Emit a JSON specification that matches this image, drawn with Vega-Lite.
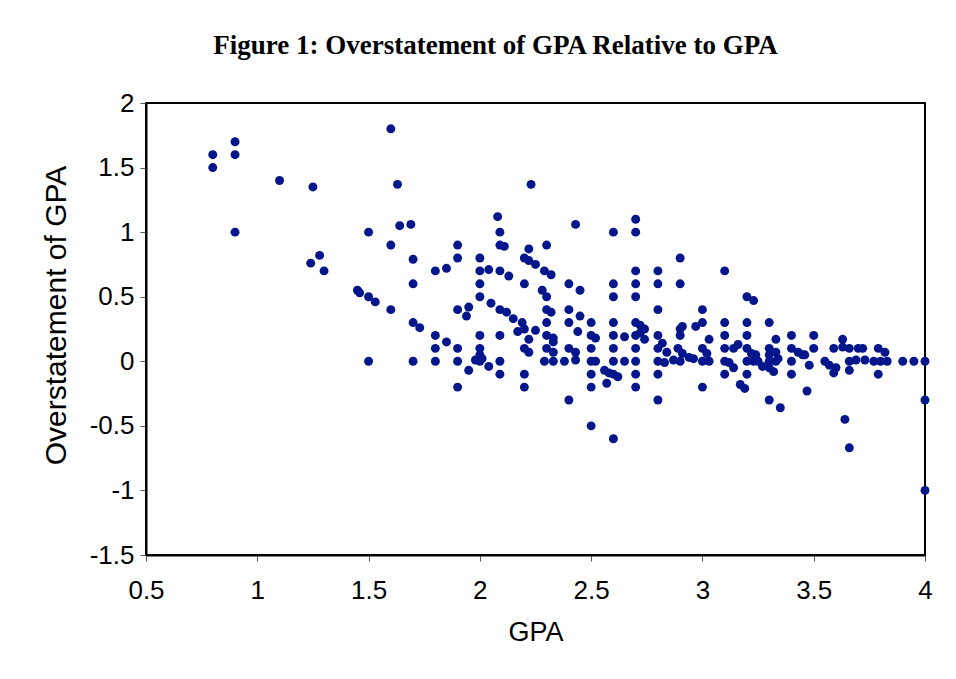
{
  "$schema": "https://vega.github.io/schema/vega-lite/v6.json",
  "autosize": "none",
  "width": 779,
  "height": 452,
  "padding": {"left": 146, "top": 103, "right": 31, "bottom": 124},
  "background": "white",
  "config": {
    "view": {"stroke": "black", "strokeWidth": 2},
    "axis": {"grid": false, "domainColor": "black", "domainWidth": 2, "tickColor": "#555", "tickSize": 6, "labelFont": "Liberation Sans", "labelFontSize": 26, "labelColor": "black", "titleFont": "Liberation Sans", "titleFontSize": 27, "titleFontWeight": "normal", "titleColor": "black"}
  },
  "title": {"text": "Figure 1: Overstatement of GPA Relative to GPA", "font": "Liberation Serif", "fontSize": 27, "fontWeight": "bold", "color": "black", "anchor": "middle", "dx": -40, "offset": 30},
  "data": {"values": [
    {"gpa":0.8,"over":1.6},{"gpa":0.8,"over":1.5},{"gpa":0.9,"over":1.7},{"gpa":0.9,"over":1.6},{"gpa":0.9,"over":1.0},{"gpa":1.1,"over":1.4},{"gpa":1.25,"over":1.35},{"gpa":1.28,"over":0.82},{"gpa":1.24,"over":0.76},{"gpa":1.3,"over":0.7},
    {"gpa":1.45,"over":0.55},{"gpa":1.46,"over":0.53},{"gpa":1.5,"over":0.5},{"gpa":1.53,"over":0.46},{"gpa":1.5,"over":1.0},{"gpa":1.5,"over":0.0},
    {"gpa":1.6,"over":1.8},{"gpa":1.63,"over":1.37},{"gpa":1.64,"over":1.05},{"gpa":1.69,"over":1.06},{"gpa":1.6,"over":0.9},{"gpa":1.6,"over":0.4},{"gpa":1.7,"over":0.79},{"gpa":1.7,"over":0.6},{"gpa":1.7,"over":0.3},{"gpa":1.73,"over":0.26},{"gpa":1.7,"over":0.0},
    {"gpa":1.8,"over":0.7},{"gpa":1.8,"over":0.2},{"gpa":1.8,"over":0.1},{"gpa":1.8,"over":0.0},{"gpa":1.85,"over":0.72},{"gpa":1.85,"over":0.15},
    {"gpa":1.9,"over":0.9},{"gpa":1.9,"over":0.8},{"gpa":1.9,"over":0.4},{"gpa":1.9,"over":0.1},{"gpa":1.9,"over":0.0},{"gpa":1.9,"over":-0.2},{"gpa":1.95,"over":0.42},{"gpa":1.94,"over":0.35},{"gpa":1.95,"over":-0.07},
    {"gpa":2.0,"over":0.8},{"gpa":2.0,"over":0.7},{"gpa":2.04,"over":0.71},{"gpa":2.0,"over":0.6},{"gpa":2.0,"over":0.5},{"gpa":2.05,"over":0.45},{"gpa":2.0,"over":0.2},{"gpa":2.0,"over":0.1},{"gpa":2.0,"over":0.05},{"gpa":1.98,"over":0.01},{"gpa":2.0,"over":0.0},{"gpa":2.01,"over":0.02},{"gpa":2.04,"over":-0.04},
    {"gpa":2.08,"over":1.12},{"gpa":2.09,"over":1.0},{"gpa":2.09,"over":0.9},{"gpa":2.11,"over":0.89},{"gpa":2.09,"over":0.7},{"gpa":2.13,"over":0.66},{"gpa":2.09,"over":0.4},{"gpa":2.12,"over":0.38},{"gpa":2.15,"over":0.33},{"gpa":2.09,"over":0.2},{"gpa":2.09,"over":0.0},{"gpa":2.09,"over":-0.1},
    {"gpa":2.2,"over":0.8},{"gpa":2.22,"over":0.78},{"gpa":2.22,"over":0.87},{"gpa":2.2,"over":0.6},{"gpa":2.19,"over":0.3},{"gpa":2.2,"over":0.25},{"gpa":2.17,"over":0.23},{"gpa":2.22,"over":0.17},{"gpa":2.2,"over":0.1},{"gpa":2.22,"over":0.07},{"gpa":2.2,"over":-0.1},{"gpa":2.2,"over":-0.2},{"gpa":2.23,"over":1.37},
    {"gpa":2.25,"over":0.75},{"gpa":2.29,"over":0.7},{"gpa":2.32,"over":0.67},{"gpa":2.3,"over":0.9},{"gpa":2.28,"over":0.55},{"gpa":2.3,"over":0.5},{"gpa":2.3,"over":0.4},{"gpa":2.32,"over":0.38},{"gpa":2.3,"over":0.3},{"gpa":2.25,"over":0.24},{"gpa":2.3,"over":0.2},{"gpa":2.33,"over":0.18},{"gpa":2.33,"over":0.15},{"gpa":2.3,"over":0.1},{"gpa":2.33,"over":0.07},{"gpa":2.29,"over":0.0},{"gpa":2.33,"over":0.0},
    {"gpa":2.4,"over":0.6},{"gpa":2.45,"over":0.55},{"gpa":2.4,"over":0.4},{"gpa":2.45,"over":0.35},{"gpa":2.4,"over":0.3},{"gpa":2.44,"over":0.23},{"gpa":2.4,"over":0.1},{"gpa":2.43,"over":0.07},{"gpa":2.38,"over":0.0},{"gpa":2.43,"over":0.01},{"gpa":2.4,"over":-0.3},{"gpa":2.43,"over":1.06},
    {"gpa":2.5,"over":0.3},{"gpa":2.5,"over":0.2},{"gpa":2.52,"over":0.18},{"gpa":2.5,"over":0.1},{"gpa":2.5,"over":0.0},{"gpa":2.52,"over":0.0},{"gpa":2.5,"over":-0.1},{"gpa":2.5,"over":-0.2},{"gpa":2.5,"over":-0.5},
    {"gpa":2.56,"over":-0.07},{"gpa":2.58,"over":-0.09},{"gpa":2.62,"over":-0.12},{"gpa":2.57,"over":-0.17},
    {"gpa":2.6,"over":1.0},{"gpa":2.6,"over":0.6},{"gpa":2.6,"over":0.5},{"gpa":2.6,"over":0.3},{"gpa":2.6,"over":0.2},{"gpa":2.6,"over":0.1},{"gpa":2.6,"over":0.0},{"gpa":2.6,"over":-0.1},{"gpa":2.6,"over":-0.6},{"gpa":2.65,"over":0.19},{"gpa":2.65,"over":0.0},
    {"gpa":2.7,"over":1.1},{"gpa":2.7,"over":1.0},{"gpa":2.7,"over":0.7},{"gpa":2.7,"over":0.6},{"gpa":2.7,"over":0.5},{"gpa":2.7,"over":0.3},{"gpa":2.72,"over":0.28},{"gpa":2.74,"over":0.25},{"gpa":2.7,"over":0.2},{"gpa":2.72,"over":0.22},{"gpa":2.74,"over":0.17},{"gpa":2.7,"over":0.1},{"gpa":2.7,"over":0.0},{"gpa":2.7,"over":-0.1},{"gpa":2.7,"over":-0.2},
    {"gpa":2.8,"over":0.7},{"gpa":2.8,"over":0.6},{"gpa":2.8,"over":0.4},{"gpa":2.8,"over":0.2},{"gpa":2.82,"over":0.14},{"gpa":2.8,"over":0.1},{"gpa":2.84,"over":0.07},{"gpa":2.8,"over":0.0},{"gpa":2.83,"over":-0.01},{"gpa":2.87,"over":0.01},{"gpa":2.8,"over":-0.1},{"gpa":2.8,"over":-0.3},
    {"gpa":2.9,"over":0.8},{"gpa":2.9,"over":0.6},{"gpa":2.91,"over":0.27},{"gpa":2.9,"over":0.25},{"gpa":2.9,"over":0.2},{"gpa":2.89,"over":0.1},{"gpa":2.91,"over":0.06},{"gpa":2.94,"over":0.03},{"gpa":2.9,"over":0.0},
    {"gpa":2.97,"over":0.27},{"gpa":3.0,"over":0.3},{"gpa":3.0,"over":0.4},{"gpa":3.03,"over":0.17},{"gpa":3.0,"over":0.1},{"gpa":3.02,"over":0.06},{"gpa":2.96,"over":0.02},{"gpa":3.0,"over":0.0},{"gpa":3.03,"over":0.0},{"gpa":3.0,"over":-0.2},
    {"gpa":3.1,"over":0.7},{"gpa":3.1,"over":0.3},{"gpa":3.1,"over":0.2},{"gpa":3.1,"over":0.1},{"gpa":3.14,"over":0.1},{"gpa":3.16,"over":0.13},{"gpa":3.1,"over":0.0},{"gpa":3.12,"over":-0.01},{"gpa":3.14,"over":-0.05},{"gpa":3.1,"over":-0.1},
    {"gpa":3.2,"over":0.5},{"gpa":3.23,"over":0.47},{"gpa":3.2,"over":0.3},{"gpa":3.2,"over":0.2},{"gpa":3.2,"over":0.1},{"gpa":3.22,"over":0.06},{"gpa":3.24,"over":0.05},{"gpa":3.2,"over":0.0},{"gpa":3.23,"over":0.0},{"gpa":3.2,"over":-0.1},{"gpa":3.17,"over":-0.18},{"gpa":3.19,"over":-0.21},
    {"gpa":3.25,"over":0.0},{"gpa":3.27,"over":-0.04},{"gpa":3.3,"over":-0.05},{"gpa":3.32,"over":-0.08},
    {"gpa":3.3,"over":0.3},{"gpa":3.33,"over":0.17},{"gpa":3.3,"over":0.1},{"gpa":3.3,"over":0.05},{"gpa":3.33,"over":0.07},{"gpa":3.34,"over":0.02},{"gpa":3.3,"over":0.0},{"gpa":3.33,"over":0.0},{"gpa":3.3,"over":-0.3},{"gpa":3.35,"over":-0.36},
    {"gpa":3.4,"over":0.2},{"gpa":3.4,"over":0.1},{"gpa":3.43,"over":0.07},{"gpa":3.45,"over":0.05},{"gpa":3.4,"over":0.0},{"gpa":3.4,"over":-0.1},
    {"gpa":3.5,"over":0.2},{"gpa":3.5,"over":0.1},{"gpa":3.46,"over":0.05},{"gpa":3.48,"over":-0.03},{"gpa":3.47,"over":-0.23},
    {"gpa":3.55,"over":0.0},{"gpa":3.57,"over":-0.03},{"gpa":3.6,"over":-0.05},{"gpa":3.59,"over":0.1},{"gpa":3.59,"over":-0.09},
    {"gpa":3.63,"over":0.17},{"gpa":3.63,"over":0.11},{"gpa":3.66,"over":0.1},{"gpa":3.7,"over":0.1},{"gpa":3.72,"over":0.1},{"gpa":3.66,"over":0.0},{"gpa":3.69,"over":0.01},{"gpa":3.73,"over":0.01},{"gpa":3.66,"over":-0.07},{"gpa":3.64,"over":-0.45},{"gpa":3.66,"over":-0.67},
    {"gpa":3.77,"over":0.0},{"gpa":3.79,"over":0.1},{"gpa":3.82,"over":0.07},{"gpa":3.8,"over":0.0},{"gpa":3.83,"over":0.0},{"gpa":3.79,"over":-0.1},
    {"gpa":3.9,"over":0.0},{"gpa":3.95,"over":0.0},{"gpa":4.0,"over":0.0},{"gpa":4.0,"over":-0.3},{"gpa":4.0,"over":-1.0}
  ]},
  "mark": {"type": "circle", "size": 80, "opacity": 1, "color": "#04168c", "clip": false},
  "encoding": {
    "x": {"field": "gpa", "type": "quantitative", "title": "GPA",
      "scale": {"domain": [0.5, 4], "nice": false, "zero": false},
      "axis": {"values": [0.5, 1, 1.5, 2, 2.5, 3, 3.5, 4], "labelExpr": "datum.value + ''", "labelPadding": 16, "titlePadding": 16, "labelFlush": false}},
    "y": {"field": "over", "type": "quantitative", "title": "Overstatement of GPA",
      "scale": {"domain": [-1.5, 2], "nice": false, "zero": false},
      "axis": {"values": [-1.5, -1, -0.5, 0, 0.5, 1, 1.5, 2], "labelExpr": "datum.value + ''", "labelPadding": 6, "titlePadding": 18, "titleFontSize": 30, "titleY": 212, "labelFlush": false}}
  }
}
